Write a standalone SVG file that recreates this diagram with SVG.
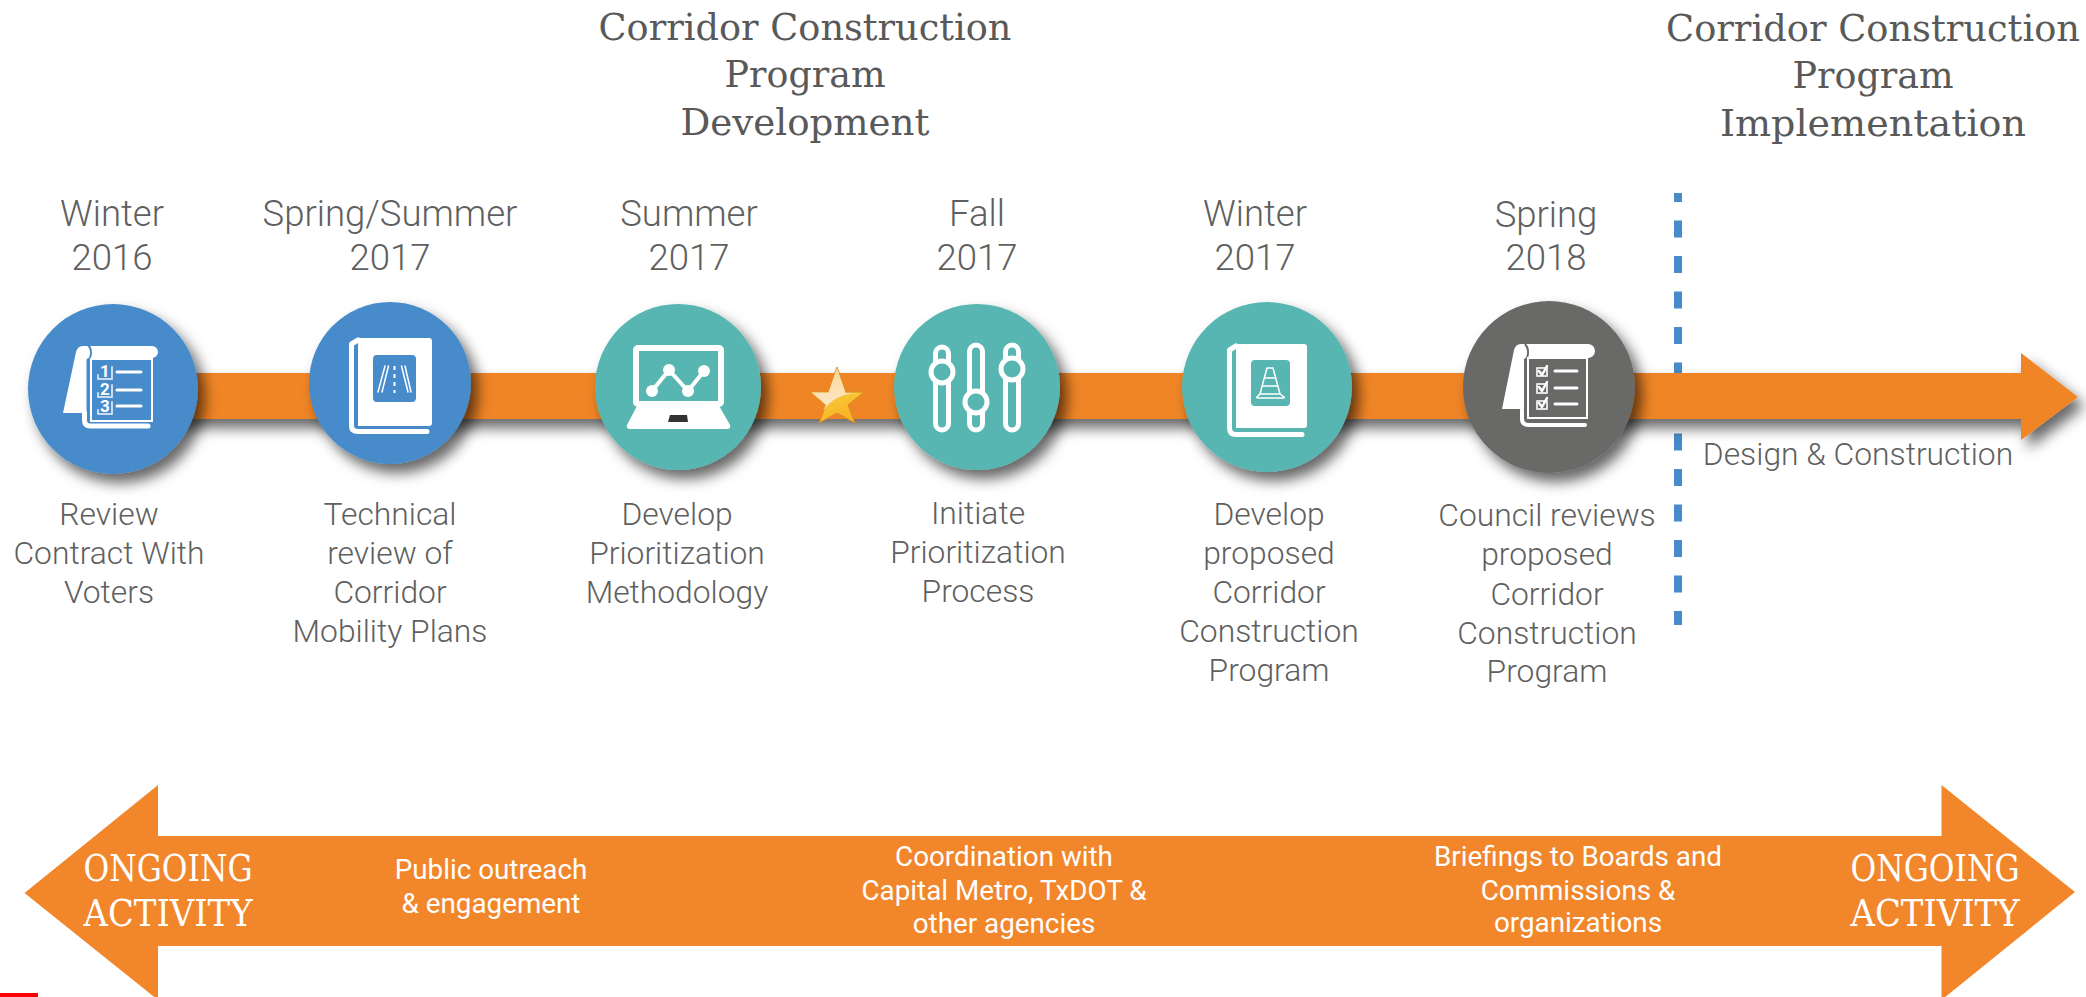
<svg xmlns="http://www.w3.org/2000/svg" width="2086" height="997" viewBox="0 0 2086 997">
<style>
text{text-anchor:middle}
.h{font-family:"DejaVu Serif","Liberation Serif",serif;font-size:36.500px;fill:#595959}
.d{font-family:Roboto,"Liberation Sans",sans-serif;font-weight:300;font-size:36.500px;fill:#5f5f5f}
.l{font-family:Roboto,"Liberation Sans",sans-serif;font-weight:300;font-size:31.800px;fill:#5f5f5f}
.w{font-family:Roboto,"Liberation Sans",sans-serif;font-weight:400;font-size:27.800px;fill:#fff}
.o{font-family:"DejaVu Serif","Liberation Serif",serif;font-size:38px;fill:#fff}
.n{font-family:Roboto,"Liberation Sans",sans-serif;font-weight:700;font-size:17px;fill:#fff}
.s{stroke:#fff;fill:none;stroke-linecap:round;stroke-linejoin:round}
.f{fill:#fff}
.blue{fill:#478BCA}.teal{fill:#58B6B2}.grey{fill:#696967}
</style>
<defs>
<filter id="sh" x="-20%" y="-30%" width="140%" height="170%"><feDropShadow dx="7" dy="9" stdDeviation="7" flood-color="#000" flood-opacity=".6"/></filter>
<linearGradient id="st" x1="0" y1="0" x2="0.3" y2="1"><stop offset="0" stop-color="#f6e04e"/><stop offset="1" stop-color="#f8b526"/></linearGradient>
<linearGradient id="st2" x1="0" y1="0" x2="0" y2="1"><stop offset="0" stop-color="#fbd79a"/><stop offset="1" stop-color="#fde9cc"/></linearGradient>
</defs>
<rect width="2086" height="997" fill="#fff"/>
<g id="connectors">
<path id="dash" d="M1678 193V625" stroke="#478BCA" stroke-width="8" stroke-dasharray="17 18.5" stroke-dashoffset="8" fill="none"/>
<path id="timeline" d="M113 373H2021V353L2078 397L2021 440V419H113Z" fill="#F08528" filter="url(#sh)"/>
</g>
<g id="star"><path d="M837 367L846 392L864 392L848 405L855 423L837 413L819 423L826 405L810 392L828 392Z" fill="url(#st)" stroke="#d98a1e" stroke-width="1"/>
<path d="M837 368L845.500 393L861 393.500Q835 392 823 411L826 405L811.500 392.500L828.500 392.500Z" fill="url(#st2)"/></g>
<g id="node1">
<circle cx="113" cy="389" r="85" class="blue" filter="url(#sh)"/>
<path class="f" d="M63 413L76 352Q78 345 84 346H152a6 6 0 0 1 0 12H90L87 359V413Z"/>
<path d="M88 345Q93 350 90 358L87.500 360V424" fill="none" stroke="#478BCA" stroke-width="2"/>
<rect x="91" y="359" width="61" height="62" fill="none" stroke="#fff" stroke-width="2"/>
<path class="s" stroke-width="5" d="M84.500 413V420Q84.500 426 90 426H148"/>
<path class="s" stroke-width="3" d="M117 372H141M117 390H141M117 406H141"/>
<g class="s" stroke-width="2" stroke-opacity=".7"><path d="M98 375V379H112V367M98 393V397H112V385M98 410V414H112V402"/></g>
<text class="n" x="105" y="377">1</text><text class="n" x="105" y="395">2</text><text class="n" x="105" y="412">3</text>
<text class="d" x="112" y="226">Winter</text><text class="d" x="112" y="270">2016</text>
<text class="l" x="109" y="525">Review</text><text class="l" x="109" y="564">Contract With</text><text class="l" x="109" y="603">Voters</text>
</g>
<g id="node2">
<circle cx="390" cy="383" r="81" class="blue" filter="url(#sh)"/>
<path class="f" d="M358 338H429a3 3 0 0 1 3 3V423a3 3 0 0 1 -3 3H358Z"/>
<path class="s" stroke-width="5" d="M358 340L351.500 344V426Q351.500 431.500 358 431.500H427"/>
<rect x="373" y="355" width="43" height="47" rx="4" class="blue"/>
<path class="s" stroke-width="1.500" d="M385 366L378 392M388.500 366L382 392M401.500 366L408 392M405 366L411 392"/>
<path stroke="#fff" stroke-width="2" stroke-dasharray="4 4" d="M394.500 366V393" fill="none"/>
<text class="d" x="390" y="226">Spring/Summer</text><text class="d" x="390" y="270">2017</text>
<text class="l" x="390" y="525">Technical</text><text class="l" x="390" y="564">review of</text><text class="l" x="390" y="603">Corridor</text><text class="l" x="390" y="642">Mobility Plans</text>
</g>
<g id="node3">
<circle cx="678" cy="387" r="83" class="teal" filter="url(#sh)"/>
<rect x="636" y="348" width="85" height="56" rx="2" fill="none" stroke="#fff" stroke-width="6"/>
<path class="f" d="M638 404H718L730 425Q731 429 727 429H630Q626 429 627 425Z"/>
<path d="M670 415H687L688 422H668Z" fill="#333"/>
<path class="s" stroke-width="4" d="M652 391L669 370L688 391L704 371"/>
<g class="f"><circle cx="652" cy="391" r="6"/><circle cx="669" cy="370" r="6"/><circle cx="688" cy="391" r="6"/><circle cx="704" cy="371" r="6"/></g>
<text class="d" x="689" y="226">Summer</text><text class="d" x="689" y="270">2017</text>
<text class="l" x="677" y="525">Develop</text><text class="l" x="677" y="564">Prioritization</text><text class="l" x="677" y="603">Methodology</text>
</g>
<g id="node4">
<circle cx="977" cy="387" r="83" class="teal" filter="url(#sh)"/>
<g fill="#58B6B2" stroke="#fff" stroke-width="5">
<rect x="935.500" y="347" width="13" height="83" rx="6.500"/><rect x="969.500" y="345" width="13" height="85" rx="6.500"/><rect x="1005.500" y="345" width="13" height="85" rx="6.500"/>
<circle cx="942" cy="372" r="11"/><circle cx="976" cy="402" r="11"/><circle cx="1012" cy="369" r="11"/>
</g>
<text class="d" x="977" y="226">Fall</text><text class="d" x="977" y="270">2017</text>
<text class="l" x="978" y="524">Initiate</text><text class="l" x="978" y="563">Prioritization</text><text class="l" x="978" y="602">Process</text>
</g>
<g id="node5">
<circle cx="1267" cy="387" r="85" class="teal" filter="url(#sh)"/>
<path class="f" d="M1236 344H1304a3 3 0 0 1 3 3V425a3 3 0 0 1 -3 3H1236Z"/>
<path class="s" stroke-width="5" d="M1236 346L1229.500 350V428Q1229.500 434.500 1236 434.500H1302"/>
<rect x="1251" y="360" width="39" height="46" rx="4" class="teal"/>
<path class="s" stroke-width="1.500" d="M1267 368H1273L1280 394H1260ZM1264 378H1276M1262 386H1278M1260 394L1257 397Q1256 398 1258 398H1283Q1285 398 1284 397L1280 394"/>
<text class="d" x="1255" y="226">Winter</text><text class="d" x="1255" y="270">2017</text>
<text class="l" x="1269" y="525">Develop</text><text class="l" x="1269" y="564">proposed</text><text class="l" x="1269" y="603">Corridor</text><text class="l" x="1269" y="642">Construction</text><text class="l" x="1269" y="681">Program</text>
</g>
<g id="node6">
<circle cx="1549" cy="387" r="86" class="grey" filter="url(#sh)"/>
<path class="f" d="M1502 409L1514 350Q1516 343 1522 344H1588a7 7 0 0 1 0 14H1527L1524 359V409Z"/>
<path d="M1525 344Q1530 350 1527 358L1525 360V420" fill="none" stroke="#696967" stroke-width="2"/>
<rect x="1528" y="358" width="59" height="60" fill="none" stroke="#fff" stroke-width="2"/>
<path class="s" stroke-width="4" d="M1522 410V419Q1522 425 1529 425H1585"/>
<path class="s" stroke-width="3" d="M1555 371H1577M1555 388H1577M1555 404H1577"/>
<path class="s" stroke-width="2" d="M1537 368V376H1547V368ZM1537 384V393H1547V384ZM1537 401V409H1547V401Z" stroke-opacity=".8"/>
<path class="s" stroke-width="2.500" d="M1539 371L1542 375L1547 366M1539 387L1542 391L1547 382M1539 403L1542 407L1547 398"/>
<text class="d" x="1546" y="227">Spring</text><text class="d" x="1546" y="270">2018</text>
<text class="l" x="1547" y="526">Council reviews</text><text class="l" x="1547" y="565">proposed</text><text class="l" x="1547" y="605">Corridor</text><text class="l" x="1547" y="644">Construction</text><text class="l" x="1547" y="682">Program</text>
</g>
<g id="design"><text class="l" x="1858" y="465">Design &amp; Construction</text></g>
<g id="heading1"><text class="h" x="805" y="40" textLength="413" lengthAdjust="spacingAndGlyphs">Corridor Construction</text><text class="h" x="805" y="87" textLength="161" lengthAdjust="spacingAndGlyphs">Program</text><text class="h" x="805" y="135" textLength="249" lengthAdjust="spacingAndGlyphs">Development</text></g>
<g id="heading2"><text class="h" x="1873" y="41" textLength="414" lengthAdjust="spacingAndGlyphs">Corridor Construction</text><text class="h" x="1873" y="88" textLength="161" lengthAdjust="spacingAndGlyphs">Program</text><text class="h" x="1873" y="136" textLength="306" lengthAdjust="spacingAndGlyphs">Implementation</text></g>
<g id="ongoing">
<path d="M24.500 893L158 785V836H1941.500V785L2075 892L1941.500 1000V946H158V1000Z" fill="#F2862A"/>
<text class="o" x="168" y="881" textLength="169" lengthAdjust="spacingAndGlyphs">ONGOING</text><text class="o" x="168" y="926" textLength="169" lengthAdjust="spacingAndGlyphs">ACTIVITY</text>
<text class="o" x="1935" y="881" textLength="169" lengthAdjust="spacingAndGlyphs">ONGOING</text><text class="o" x="1935" y="926" textLength="169" lengthAdjust="spacingAndGlyphs">ACTIVITY</text>
<text class="w" x="491" y="879">Public outreach</text><text class="w" x="491" y="913">&amp; engagement</text>
<text class="w" x="1004" y="866">Coordination with</text><text class="w" x="1004" y="900">Capital Metro, TxDOT &amp;</text><text class="w" x="1004" y="933">other agencies</text>
<text class="w" x="1578" y="866">Briefings to Boards and</text><text class="w" x="1578" y="900">Commissions &amp;</text><text class="w" x="1578" y="932">organizations</text>
</g>
<rect id="mark" x="0" y="993" width="38" height="4" fill="#f00"/>
</svg>
